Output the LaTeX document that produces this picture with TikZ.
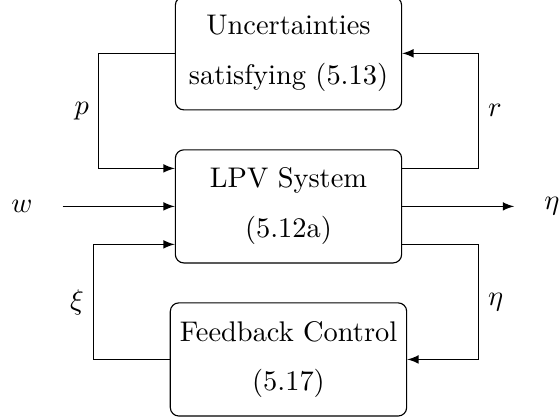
\documentclass[tikz,border=0pt]{standalone}
\usepackage{amsmath}
\usepackage{amssymb}
\usetikzlibrary{arrows, positioning}

\begin{document}
\begin{tikzpicture}[->,>=latex,auto,node distance=0.48cm,thin]
   \tikzstyle{block}=[draw=black,rounded corners=3pt,align=center,
                      minimum width=2.8cm,minimum height=1.4cm]
   \useasboundingbox (-3.57,2.554) rectangle (3.36,-2.641);

   \node[block]                 (lpv) {LPV System\\[5.5pt] (5.12a)};
   \node[block] (unc) [above=of lpv] {Uncertainties\\[5.5pt] satisfying (5.13)};
   \node[block] (fb)  [below=of lpv] {Feedback Control\\[5.5pt] (5.17)};
   \node (w)   at (-3.30,0) {$w$};
   \node (eta) at (3.26,0)  {$\eta$};

   \draw (unc.west) -- ++(-0.94,0) |- node[pos=0.25,left] {$p$} ([yshift=0.47cm]lpv.west);
   \draw ([yshift=0.47cm]lpv.east) -- ++(0.94,0) |- node[pos=0.25,right] {$r$} (unc.east);
   \draw ([yshift=-0.47cm]lpv.east) -- ++(0.94,0) |- node[pos=0.25,right] {$\eta$} (fb.east);
   \draw (fb.west) -- ++(-0.94,0) |- node[pos=0.25,left] {$\xi$} ([yshift=-0.47cm]lpv.west);
   \draw[shorten <=0.25cm] (w) -- (lpv);
   \draw[shorten >=0.25cm] (lpv) -- (eta);
\end{tikzpicture}
\end{document}
